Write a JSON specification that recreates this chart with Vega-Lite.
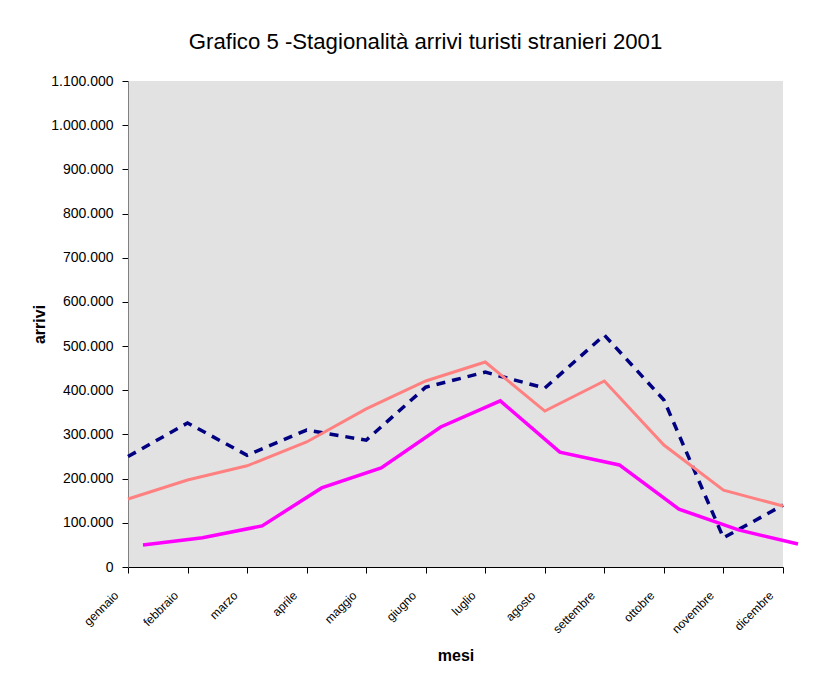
{
  "$schema": "https://vega.github.io/schema/vega-lite/v6.json",
  "width": 655,
  "height": 486,
  "autosize": "none",
  "padding": {"left": 128, "top": 81, "right": 44, "bottom": 107},
  "background": "white",
  "title": {
    "text": "Grafico 5 -Stagionalità arrivi turisti stranieri 2001",
    "font": "Liberation Sans",
    "fontSize": 22.2,
    "fontWeight": "normal",
    "color": "#000000",
    "frame": "group",
    "anchor": "middle",
    "baseline": "alphabetic",
    "offset": 3,
    "dx": -30
  },
  "data": {
    "values": [
      {"mese": "gennaio", "serie": "A", "arrivi": 250000},
      {"mese": "febbraio", "serie": "A", "arrivi": 326000},
      {"mese": "marzo", "serie": "A", "arrivi": 253000},
      {"mese": "aprile", "serie": "A", "arrivi": 310000},
      {"mese": "maggio", "serie": "A", "arrivi": 287000},
      {"mese": "giugno", "serie": "A", "arrivi": 407000},
      {"mese": "luglio", "serie": "A", "arrivi": 441000},
      {"mese": "agosto", "serie": "A", "arrivi": 405000},
      {"mese": "settembre", "serie": "A", "arrivi": 525000},
      {"mese": "ottobre", "serie": "A", "arrivi": 378000},
      {"mese": "novembre", "serie": "A", "arrivi": 66000},
      {"mese": "dicembre", "serie": "A", "arrivi": 140000},
      {"mese": "gennaio", "serie": "B", "arrivi": 154000},
      {"mese": "febbraio", "serie": "B", "arrivi": 197000},
      {"mese": "marzo", "serie": "B", "arrivi": 229000},
      {"mese": "aprile", "serie": "B", "arrivi": 283000},
      {"mese": "maggio", "serie": "B", "arrivi": 358000},
      {"mese": "giugno", "serie": "B", "arrivi": 421000},
      {"mese": "luglio", "serie": "B", "arrivi": 464000},
      {"mese": "agosto", "serie": "B", "arrivi": 353000},
      {"mese": "settembre", "serie": "B", "arrivi": 421000},
      {"mese": "ottobre", "serie": "B", "arrivi": 276000},
      {"mese": "novembre", "serie": "B", "arrivi": 174000},
      {"mese": "dicembre", "serie": "B", "arrivi": 138000},
      {"mese": "gennaio", "serie": "C", "arrivi": 50000},
      {"mese": "febbraio", "serie": "C", "arrivi": 66000},
      {"mese": "marzo", "serie": "C", "arrivi": 93000},
      {"mese": "aprile", "serie": "C", "arrivi": 179000},
      {"mese": "maggio", "serie": "C", "arrivi": 224000},
      {"mese": "giugno", "serie": "C", "arrivi": 317000},
      {"mese": "luglio", "serie": "C", "arrivi": 376000},
      {"mese": "agosto", "serie": "C", "arrivi": 260000},
      {"mese": "settembre", "serie": "C", "arrivi": 231000},
      {"mese": "ottobre", "serie": "C", "arrivi": 131000},
      {"mese": "novembre", "serie": "C", "arrivi": 84000},
      {"mese": "dicembre", "serie": "C", "arrivi": 52000}
    ]
  },
  "encoding": {
    "x": {
      "field": "mese",
      "type": "ordinal",
      "scale": {
        "type": "point",
        "padding": 0,
        "domain": ["gennaio", "febbraio", "marzo", "aprile", "maggio", "giugno", "luglio", "agosto", "settembre", "ottobre", "novembre", "dicembre"]
      },
      "axis": {
        "title": "mesi",
        "titleFont": "Liberation Sans",
        "titleFontSize": 16,
        "titleFontWeight": "bold",
        "titleColor": "#000000",
        "titleBaseline": "top",
        "titleY": 80,
        "labelAngle": -45,
        "labelAlign": "right",
        "labelBaseline": "middle",
        "labelPadding": 20,
        "labelOffset": -12,
        "labelFont": "Liberation Sans",
        "labelFontSize": 12,
        "labelColor": "#000000",
        "tickSize": 6,
        "tickColor": "#000000",
        "domainColor": "#000000",
        "grid": false,
        "labelOverlap": false
      }
    },
    "y": {
      "field": "arrivi",
      "type": "quantitative",
      "scale": {"domain": [0, 1100000], "nice": false},
      "axis": {
        "title": "arrivi",
        "titleFont": "Liberation Sans",
        "titleFontSize": 16,
        "titleFontWeight": "bold",
        "titleColor": "#000000",
        "titlePadding": 3,
        "values": [0, 100000, 200000, 300000, 400000, 500000, 600000, 700000, 800000, 900000, 1000000, 1100000],
        "format": ",d",
        "labelFont": "Liberation Sans",
        "labelFontSize": 14,
        "labelColor": "#000000",
        "labelPadding": 9,
        "tickSize": 6,
        "tickColor": "#000000",
        "domainColor": "#808080",
        "grid": false
      }
    }
  },
  "layer": [
    {
      "transform": [{"filter": "datum.serie === 'A'"}],
      "mark": {"type": "line", "color": "#000080", "strokeWidth": 3.5, "strokeDash": [9, 7]}
    },
    {
      "transform": [{"filter": "datum.serie === 'B'"}],
      "mark": {"type": "line", "color": "#FF8080", "strokeWidth": 3}
    },
    {
      "transform": [{"filter": "datum.serie === 'C'"}],
      "mark": {"type": "line", "color": "#FF00FF", "strokeWidth": 3.5, "xOffset": 15}
    }
  ],
  "config": {
    "locale": {
      "number": {"decimal": ",", "thousands": ".", "grouping": [3], "currency": ["€", ""]}
    },
    "view": {"fill": "#e2e2e2", "stroke": null},
    "font": "Liberation Sans"
  }
}
